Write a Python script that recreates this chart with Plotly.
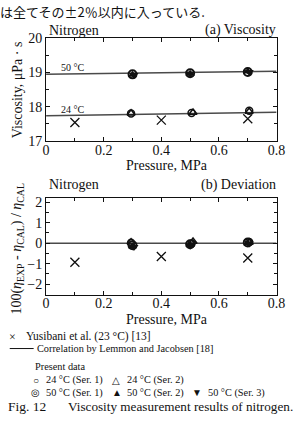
import plotly.graph_objects as go

# ---- data ----
P_yus = [0.1, 0.4, 0.7]
visc_yus = [17.54, 17.61, 17.65]
dev_yus = [-0.93, -0.65, -0.72]

P_corr = [0.0, 0.8]
corr_24 = [17.74, 17.84]
corr_50 = [18.94, 19.03]

P_24s1 = [0.295, 0.505, 0.705]
visc_24s1 = [17.80, 17.82, 17.88]
dev_24s1 = [0.02, -0.02, 0.06]

P_24s2 = [0.295, 0.51, 0.705]
visc_24s2 = [17.81, 17.83, 17.86]
dev_24s2 = [0.05, 0.08, 0.03]

P_50s1 = [0.30, 0.50, 0.70]
visc_50s1 = [18.94, 18.97, 19.01]
dev_50s1 = [-0.10, -0.05, 0.03]

P_50s2 = [0.30, 0.50, 0.70]
visc_50s2 = [18.93, 18.96, 19.02]
dev_50s2 = [-0.15, -0.08, 0.00]

P_50s3 = [0.305, 0.50, 0.705]
visc_50s3 = [18.92, 18.96, 19.01]
dev_50s3 = [-0.18, -0.12, -0.02]

dev_zero = [0.0, 0.0]

FONT = "Liberation Serif, Times New Roman, DejaVu Serif, serif"
BLACK = "#111111"
LINEC = "#4a4a4a"

fig = go.Figure()

def add_panel(xa, ya, yus, s24a, s24b, s50a, s50b, s50c, lines):
    for yv in lines:
        fig.add_trace(go.Scatter(x=P_corr, y=yv, mode="lines", xaxis=xa, yaxis=ya,
                                 line=dict(color=LINEC, width=1.5), showlegend=False))
    fig.add_trace(go.Scatter(x=P_yus, y=yus, mode="markers", xaxis=xa, yaxis=ya,
                             marker=dict(symbol="x-thin-open", size=9, color=BLACK,
                                         line=dict(color=BLACK, width=1.3)),
                             showlegend=False))
    fig.add_trace(go.Scatter(x=P_24s1, y=s24a, mode="markers", xaxis=xa, yaxis=ya,
                             marker=dict(symbol="circle-open", size=7, color=BLACK,
                                         line=dict(color=BLACK, width=1.5)),
                             showlegend=False))
    fig.add_trace(go.Scatter(x=P_24s2, y=s24b, mode="markers", xaxis=xa, yaxis=ya,
                             marker=dict(symbol="triangle-up-open", size=7, color=BLACK,
                                         line=dict(color=BLACK, width=1.5)),
                             showlegend=False))
    fig.add_trace(go.Scatter(x=P_50s1, y=s50a, mode="markers", xaxis=xa, yaxis=ya,
                             marker=dict(symbol="circle-open-dot", size=8, color=BLACK,
                                         line=dict(color=BLACK, width=2)),
                             showlegend=False))
    fig.add_trace(go.Scatter(x=P_50s2, y=s50b, mode="markers", xaxis=xa, yaxis=ya,
                             marker=dict(symbol="triangle-up", size=8, color=BLACK),
                             showlegend=False))
    fig.add_trace(go.Scatter(x=P_50s3, y=s50c, mode="markers", xaxis=xa, yaxis=ya,
                             marker=dict(symbol="triangle-down", size=8, color=BLACK),
                             showlegend=False))

add_panel("x", "y", visc_yus, visc_24s1, visc_24s2, visc_50s1, visc_50s2, visc_50s3, [corr_24, corr_50])
add_panel("x2", "y2", dev_yus, dev_24s1, dev_24s2, dev_50s1, dev_50s2, dev_50s3, [dev_zero])

H = 426.0
def py(pix):
    return 1 - pix / H

xdom = [44 / 298, 285 / 298]
axis_common = dict(showline=True, linecolor=BLACK, linewidth=1, mirror="ticks", ticks="inside",
                   ticklen=4, tickcolor=BLACK, showgrid=False, zeroline=False,
                   tickfont=dict(family=FONT, size=14, color=BLACK))

fig.update_layout(
    width=298, height=426, margin=dict(l=0, r=0, t=0, b=0),
    paper_bgcolor="white", plot_bgcolor="white",
    font=dict(family=FONT, color=BLACK),
    xaxis=dict(domain=xdom, anchor="y", range=[0, 0.8], dtick=0.2, tickformat="~g",
               ticklabelstandoff=-4,
               minor=dict(dtick=0.1, ticks="inside", ticklen=3, tickcolor=BLACK), **axis_common),
    yaxis=dict(domain=[py(139), py(32)], anchor="x", range=[17, 20], dtick=1,
               minor=dict(dtick=0.5, ticks="inside", ticklen=3, tickcolor=BLACK), **axis_common),
    xaxis2=dict(domain=xdom, anchor="y2", range=[0, 0.8], dtick=0.2, tickformat="~g",
                ticklabelstandoff=-4,
                minor=dict(dtick=0.1, ticks="inside", ticklen=3, tickcolor=BLACK), **axis_common),
    yaxis2=dict(domain=[py(298), py(198)], anchor="x2", range=[-2.5, 2.2], dtick=1,
                minor=dict(dtick=0.5, ticks="inside", ticklen=3, tickcolor=BLACK), **axis_common),
)

def ann(text, x, y, size=13, xanchor="left", yanchor="middle", angle=0, family=FONT):
    fig.add_annotation(text=text, x=x / 298, y=py(y), xref="paper", yref="paper",
                       xanchor=xanchor, yanchor=yanchor, showarrow=False, textangle=angle,
                       font=dict(family=family, size=size, color=BLACK))

# top Japanese text (partly cut off)
ann("は全てその±2％以内に入っている.", -6, 5, size=13, family="Noto Sans CJK JP")

# panel headers
ann("Nitrogen", 45, 24, size=14)
ann("(a) Viscosity", 286, 24, size=14, xanchor="right")
ann("Nitrogen", 45, 184, size=14)
ann("(b) Deviation", 286, 184, size=14, xanchor="right")
ann("50 °C", 57, 63, size=10)
ann("24 °C", 58, 106, size=10)

# axis titles
ann("Pressure, MPa", 170, 164, size=14, xanchor="center")
ann("Pressure, MPa", 170, 324, size=14, xanchor="center")
ann("Viscosity, μPa · s", 15, 86, size=14, xanchor="center", angle=-90)
ann("100(<i>η</i><sub>EXP</sub> - <i>η</i><sub>CAL</sub>) / <i>η</i><sub>CAL</sub>", 14, 250,
    size=14, xanchor="center", angle=-90)

# legend
ann("×", 9, 342, size=12, xanchor="center")
ann("Yusibani et al. (23 °C) [13]", 21, 342, size=11.5)
fig.add_shape(type="line", xref="paper", yref="paper", x0=6 / 298, x1=31 / 298,
              y0=py(354), y1=py(354), line=dict(color=BLACK, width=1))
ann("Correlation by Lemmon and Jacobsen [18]", 32, 354, size=10.3)
ann("Present data", 30, 373, size=10.3)
ann("○", 33, 387, size=10, xanchor="center")
ann("24 °C (Ser. 1)", 42, 387, size=10.3)
ann("△", 117, 387, size=10, xanchor="center")
ann("24 °C (Ser. 2)", 127, 387, size=10.3)
ann("◎", 33, 400, size=10, xanchor="center")
ann("50 °C (Ser. 1)", 42, 400, size=10.3)
ann("▲", 118, 400, size=10, xanchor="center")
ann("50 °C (Ser. 2)", 127, 400, size=10.3)
ann("▼", 202, 400, size=10, xanchor="center")
ann("50 °C (Ser. 3)", 211, 400, size=10.3)
ann("Fig. 12", 2, 414, size=13.5)
ann("Viscosity measurement results of nitrogen.", 65, 414, size=13.2)

fig.write_html("out.html")
